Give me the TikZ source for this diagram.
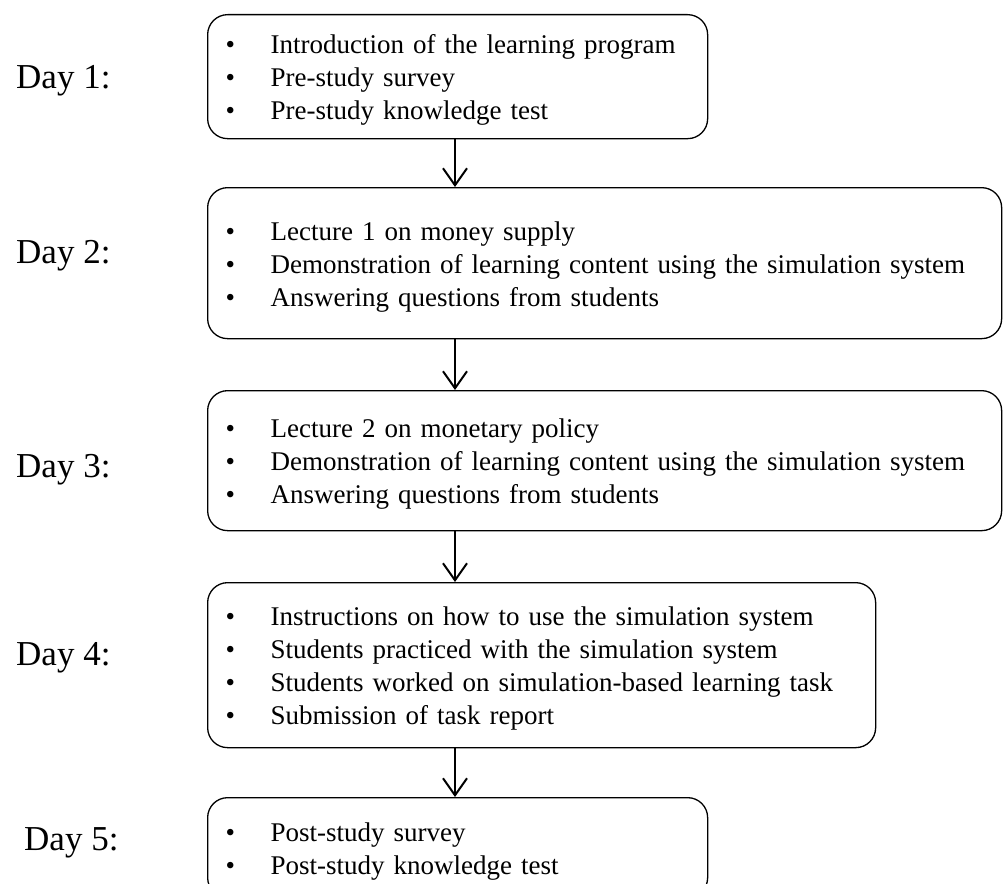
\documentclass[tikz,border=0pt]{standalone}
\usepackage{fontspec}
\setmainfont{Liberation Serif}
\usetikzlibrary{arrows.meta}

\newcommand{\bul}{\makebox[45pt][l]{\textbullet}}

\begin{document}
\begin{tikzpicture}[x=1pt, y=-1pt,
  daybox/.style={draw, rounded corners=20pt, line width=1.3pt, anchor=north west,
    align=left, inner xsep=18pt, inner ysep=0pt,
    font=\fontsize{27}{33}\selectfont,
    execute at begin node=\rule{0pt}{26pt}},
  daylbl/.style={anchor=base west, inner sep=0pt, font=\fontsize{35}{40}\selectfont},
  flow/.style={line width=2pt, -{Straight Barb[length=17pt,width=24pt]}}]

  \clip (0,0) rectangle (1003,883);

  % schedule boxes
  \node[daybox, text width=464pt, minimum height=124pt] (box1) at (207,14)
    {\bul Introduction of the learning program\\
     \bul Pre-study survey\\
     \bul Pre-study knowledge test};
  \node[daybox, text width=758pt, minimum height=151pt] (box2) at (207,187)
    {\bul Lecture 1 on money supply\\
     \bul Demonstration of learning content using the simulation system\\
     \bul Answering questions from students};
  \node[daybox, text width=758pt, minimum height=140pt] (box3) at (207,390)
    {\bul Lecture 2 on monetary policy\\
     \bul Demonstration of learning content using the simulation system\\
     \bul Answering questions from students};
  \node[daybox, text width=632pt, minimum height=165pt] (box4) at (207,582)
    {\bul Instructions on how to use the simulation system\\
     \bul Students practiced with the simulation system\\
     \bul Students worked on simulation-based learning task\\
     \bul Submission of task report};
  \node[daybox, text width=464pt, minimum height=100pt] (box5) at (207,797)
    {\bul Post-study survey\\
     \bul Post-study knowledge test};

  % day labels
  \node[daylbl] (day1) at (16,88) {Day 1:};
  \node[daylbl] (day2) at (16,263) {Day 2:};
  \node[daylbl] (day3) at (16,477) {Day 3:};
  \node[daylbl] (day4) at (16,665) {Day 4:};
  \node[daylbl] (day5) at (24,850) {Day 5:};

  % arrows down the middle
  \coordinate (spine) at (455,0);
  \draw[flow] (spine |- box1.south) -- (spine |- box2.north);
  \draw[flow] (spine |- box2.south) -- (spine |- box3.north);
  \draw[flow] (spine |- box3.south) -- (spine |- box4.north);
  \draw[flow] (spine |- box4.south) -- (spine |- box5.north);
\end{tikzpicture}
\end{document}
